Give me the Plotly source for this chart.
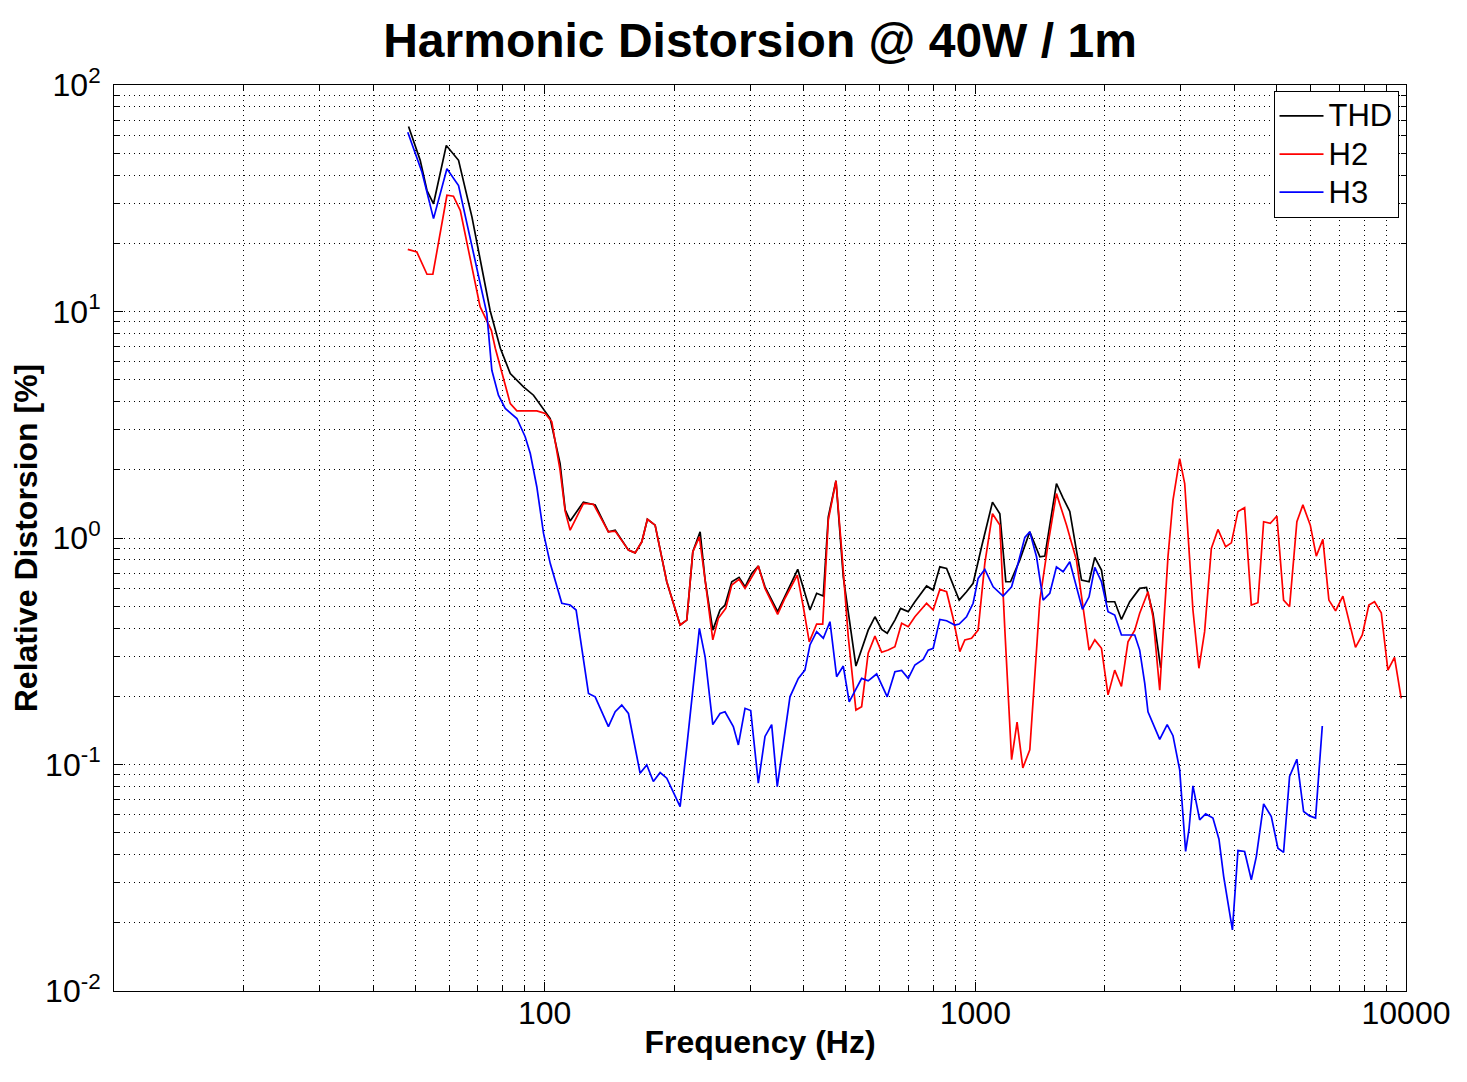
import plotly.graph_objects as go

# ---------------- data ----------------
thd_freq = [48.3, 51.4, 53.3, 55.2, 59.1, 63.1, 67.8, 74.7, 78.9, 83.2,
            89.3, 94.2, 103.0, 108.6, 111.6, 114.6, 123.0, 131.0, 140.6, 145.8,
            156.5, 162.2, 168.1, 173.2, 180.5, 192.1, 206.3, 213.8, 220.8, 229.6,
            235.8, 245.7, 255.4, 262.3, 271.9, 282.7, 291.9, 302.5, 313.4, 324.8,
            347.5, 386.9, 413.0, 428.1, 443.6, 455.6, 474.7, 493.6, 528.1, 563.9,
            584.6, 606.0, 624.4, 650.5, 670.7, 698.5, 723.9, 770.6, 798.2, 827.2,
            857.5, 917.2, 954.0, 988.3, 1034, 1096, 1140, 1177, 1207, 1268,
            1338, 1412, 1450, 1543, 1599, 1657, 1764, 1837, 1894, 1963,
            2016, 2107, 2184, 2283, 2408, 2497, 2585, 2655, 2694]
thd = [65.6, 46.5, 34.2, 29.9, 54.1, 46.5, 26.1, 10.1, 6.88, 5.32,
       4.65, 4.27, 3.37, 2.13, 1.33, 1.19, 1.44, 1.40, 1.065, 1.083,
       0.884, 0.860, 0.962, 1.21, 1.14, 0.641, 0.413, 0.434, 0.869, 1.065,
       0.652, 0.392, 0.481, 0.506, 0.641, 0.670, 0.609, 0.698, 0.752, 0.609,
       0.473, 0.727, 0.481, 0.570, 0.554, 1.24, 1.79, 0.674, 0.272, 0.392,
       0.449, 0.395, 0.380, 0.434, 0.489, 0.473, 0.523, 0.614, 0.589, 0.746,
       0.734, 0.532, 0.579, 0.631, 0.915, 1.44, 1.28, 0.641, 0.641, 0.799,
       1.065, 0.826, 0.832, 1.74, 1.50, 1.31, 0.652, 0.641, 0.821, 0.722,
       0.523, 0.523, 0.437, 0.523, 0.599, 0.605, 0.465, 0.331, 0.267]

h2_freq = [48.1, 50.5, 53.3, 55.0, 59.3, 61.4, 63.7, 70.8, 75.2, 76.8,
           83.2, 86.2, 95.9, 100.3, 103.9, 108.6, 111.6, 114.6, 123.0, 129.8,
           140.6, 145.8, 156.5, 162.2, 168.1, 173.2, 180.5, 192.1, 206.3, 213.8,
           220.8, 228.7, 235.8, 245.7, 253.1, 263.3, 271.9, 282.7, 291.9, 313.4,
           324.8, 347.5, 361.4, 386.0, 398.6, 411.5, 428.1, 442.2, 455.6, 474.7,
           489.4, 506.9, 528.1, 544.5, 563.9, 584.6, 606.0, 627.7, 650.5, 674.3,
           698.5, 723.9, 770.6, 798.2, 827.2, 857.5, 888.0, 920.4, 945.4, 979.9,
           1015, 1052, 1096, 1140, 1171, 1214, 1250, 1289, 1338, 1412,
           1476, 1543, 1628, 1717, 1837, 1894, 1963, 2033, 2107, 2184,
           2262, 2345, 2408, 2517, 2585, 2680, 2727, 2801, 2877, 2982,
           3063, 3201, 3305, 3407, 3532, 3659, 3813, 3931, 4072, 4220,
           4373, 4530, 4671, 4841, 5014, 5197, 5366, 5580, 5762, 5995,
           6190, 6412, 6621, 6862, 7136, 7634, 7915, 8199, 8452, 8761,
           9076, 9404, 9747]
h2 = [18.8, 18.3, 14.6, 14.6, 32.6, 32.3, 27.9, 10.5, 8.26, 6.88,
      3.92, 3.64, 3.64, 3.55, 3.26, 1.99, 1.31, 1.083, 1.42, 1.41,
      1.065, 1.073, 0.884, 0.860, 0.962, 1.21, 1.14, 0.641, 0.413, 0.434,
      0.869, 1.012, 0.652, 0.355, 0.442, 0.489, 0.620, 0.657, 0.599, 0.752,
      0.599, 0.460, 0.542, 0.686, 0.497, 0.348, 0.417, 0.417, 1.20, 1.79,
      0.884, 0.367, 0.174, 0.180, 0.310, 0.369, 0.313, 0.320, 0.331, 0.420,
      0.406, 0.449, 0.515, 0.481, 0.593, 0.579, 0.442, 0.315, 0.355, 0.361,
      0.392, 0.773, 1.28, 1.14, 0.392, 0.105, 0.154, 0.0966, 0.116, 0.532,
      0.947, 1.57, 1.14, 0.799, 0.320, 0.355, 0.326, 0.203, 0.261, 0.221,
      0.348, 0.392, 0.465, 0.579, 0.449, 0.213, 0.367, 0.826, 1.47, 2.24,
      1.74, 0.481, 0.266, 0.386, 0.900, 1.091, 0.915, 0.952, 1.31, 1.36,
      0.506, 0.518, 1.18, 1.16, 1.25, 0.532, 0.497, 1.18, 1.40, 1.14,
      0.832, 0.986, 0.532, 0.477, 0.554, 0.329, 0.373, 0.506, 0.523, 0.468,
      0.261, 0.297, 0.196]

h3_freq = [48.1, 51.9, 55.2, 59.3, 63.1, 73.4, 75.4, 78.1, 81.0, 86.2,
           90.1, 92.6, 95.9, 99.4, 103.0, 109.6, 114.6, 118.3, 126.4, 131.0,
           140.6, 145.8, 151.0, 156.5, 166.6, 172.6, 178.8, 185.4, 192.1, 206.3,
           213.8, 228.7, 235.8, 245.7, 255.4, 262.3, 274.2, 281.7, 291.9, 300.9,
           313.4, 324.8, 336.6, 346.8, 371.2, 388.1, 402.1, 413.0, 428.1, 443.6,
           459.7, 476.4, 493.6, 509.5, 544.5, 563.9, 590.0, 624.4, 650.5, 674.3,
           698.5, 723.9, 756.8, 777.3, 798.2, 827.2, 857.5, 896.1, 917.2, 954.0,
           988.3, 1015, 1052, 1100, 1160, 1214, 1257, 1303, 1338, 1387,
           1437, 1489, 1543, 1599, 1657, 1773, 1837, 1894, 1963, 2033,
           2107, 2184, 2345, 2408, 2474, 2517, 2680, 2789, 2877, 2982,
           3078, 3133, 3201, 3318, 3426, 3562, 3679, 3773, 3953, 4072,
           4220, 4373, 4492, 4671, 4867, 5042, 5197, 5366, 5580, 5784,
           5972, 6166, 6392]
h3 = [61.9, 41.2, 25.7, 42.7, 36.0, 9.79, 5.50, 4.27, 3.73, 3.37,
      2.80, 2.36, 1.68, 1.048, 0.773, 0.515, 0.506, 0.481, 0.206, 0.199,
      0.147, 0.171, 0.183, 0.168, 0.0915, 0.0996, 0.0841, 0.0921, 0.0870, 0.0652,
      0.120, 0.399, 0.299, 0.150, 0.168, 0.171, 0.147, 0.122, 0.177, 0.173,
      0.0827, 0.133, 0.150, 0.0799, 0.199, 0.240, 0.261, 0.337, 0.386, 0.361,
      0.427, 0.244, 0.272, 0.189, 0.240, 0.234, 0.251, 0.199, 0.257, 0.260,
      0.240, 0.275, 0.291, 0.320, 0.326, 0.437, 0.431, 0.413, 0.417, 0.449,
      0.515, 0.663, 0.727, 0.609, 0.554, 0.609, 0.773, 1.006, 1.065, 0.826,
      0.532, 0.570, 0.746, 0.710, 0.785, 0.484, 0.550, 0.742, 0.641, 0.473,
      0.457, 0.373, 0.373, 0.320, 0.228, 0.171, 0.129, 0.150, 0.134, 0.0947,
      0.0413, 0.0514, 0.0805, 0.0570, 0.0605, 0.0580, 0.0468, 0.0320, 0.0186, 0.0417,
      0.0413, 0.0310, 0.0392, 0.0670, 0.0589, 0.0427, 0.0409, 0.0885, 0.1055, 0.0620,
      0.0593, 0.0580, 0.148]

series_names = ["THD", "H2", "H3"]
x_tickvals = [100, 1000, 10000]
x_ticktext = ["100", "1000", "10000"]
y_tickvals = [0.01, 0.1, 1, 10, 100]
y_ticktext = ["10<sup>-2</sup>", "10<sup>-1</sup>", "10<sup>0</sup>",
              "10<sup>1</sup>", "10<sup>2</sup>"]

# ---------------- figure ----------------
FONT = "Liberation Sans, Arial, Helvetica, sans-serif"
GRID = dict(color="#000000", width=1, dash="1px,4px")

# the page body adds an 8px offset; the figure is sized so the plot lands
# on the same window pixels as the reference
W, H = 1459, 1074

x_minor = [m * 10 ** e for e in (1, 2, 3) for m in range(2, 10)]
y_minor = [m * 10.0 ** e for e in (-2, -1, 0, 1) for m in range(2, 10)]


def legend_label(name):
    return "<span style='font-size:31px'>" + name + "</span>"


fig = go.Figure()
for name, xs, ys, col in [(series_names[0], thd_freq, thd, "#000000"),
                          (series_names[1], h2_freq, h2, "#ff0000"),
                          (series_names[2], h3_freq, h3, "#0000ff")]:
    fig.add_trace(go.Scatter(x=xs, y=ys, mode="lines", name=legend_label(name),
                             line=dict(color=col, width=1.7)))

axis_common = dict(
    showline=True, linecolor="#000000", linewidth=1, mirror="allticks",
    ticks="inside", ticklen=9, tickcolor="#000000", tickwidth=1,
    showgrid=True, gridcolor=GRID["color"], gridwidth=GRID["width"], griddash=GRID["dash"],
    zeroline=False,
    tickfont=dict(family=FONT, size=32, color="#000000"),
)

fig.update_xaxes(
    type="log", range=[1, 4],
    tickmode="array", tickvals=x_tickvals, ticktext=x_ticktext,
    ticklabelstandoff=-6,
    minor=dict(tickmode="array", tickvals=x_minor, ticks="inside", ticklen=5,
               tickcolor="#000000", showgrid=True, gridcolor=GRID["color"],
               gridwidth=GRID["width"], griddash=GRID["dash"]),
    title=dict(text="<b>Frequency (Hz)</b>", font=dict(family=FONT, size=32, color="#000000"),
               standoff=0),
    **axis_common,
)
fig.update_yaxes(
    type="log", range=[-2, 2],
    tickmode="array", tickvals=y_tickvals, ticktext=y_ticktext,
    ticklabelstandoff=6,
    minor=dict(tickmode="array", tickvals=y_minor, ticks="inside", ticklen=5,
               tickcolor="#000000", showgrid=True, gridcolor=GRID["color"],
               gridwidth=GRID["width"], griddash=GRID["dash"]),
    title=dict(text="<b>Relative Distorsion [%]</b>", font=dict(family=FONT, size=32, color="#000000"),
               standoff=4),
    **axis_common,
)

fig.update_layout(
    width=W, height=H,
    margin=dict(l=106, r=61, t=77, b=91, autoexpand=False),
    paper_bgcolor="#ffffff", plot_bgcolor="#ffffff",
    font=dict(family=FONT, color="#000000"),
    title=dict(text="<b>Harmonic Distorsion @ 40W / 1m</b>",
               font=dict(family=FONT, size=48, color="#000000"),
               x=0.5, xref="paper", xanchor="center",
               y=1 - 32 / H, yref="container", yanchor="middle"),
    legend=dict(x=0.9942, y=0.9935, xanchor="right", yanchor="top",
                bgcolor="#ffffff", bordercolor="#000000", borderwidth=1,
                font=dict(family=FONT, size=27, color="#000000"),
                itemwidth=44, tracegroupgap=0),
    showlegend=True,
)

fig.write_html("out.html")
